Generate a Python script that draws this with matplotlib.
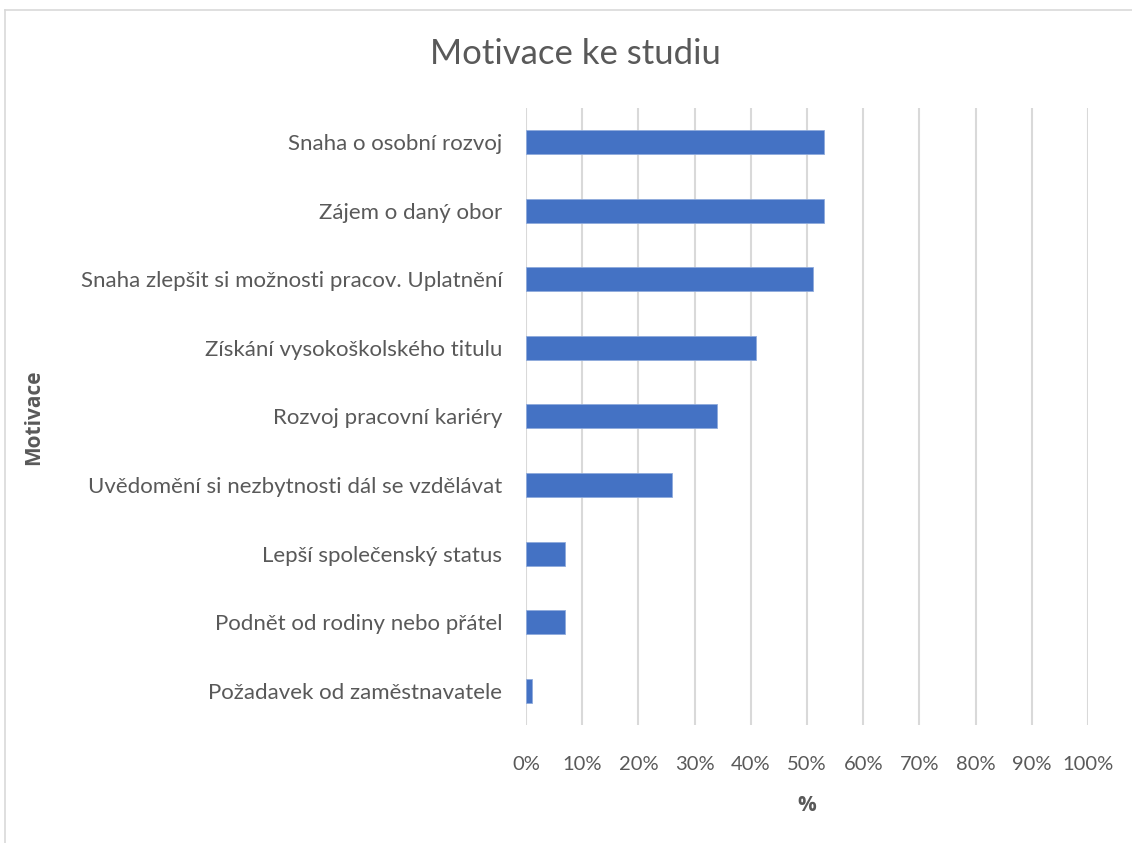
import matplotlib.pyplot as plt
from matplotlib.ticker import FuncFormatter

categories = ['Snaha o osobní rozvoj', 'Zájem o daný obor',
              'Snaha zlepšit si možnosti pracov. Uplatnění',
              'Získání vysokoškolského titulu', 'Rozvoj pracovní kariéry',
              'Uvědomění si nezbytnosti dál se vzdělávat',
              'Lepší společenský status', 'Podnět od rodiny nebo přátel',
              'Požadavek od zaměstnavatele']
values = [53, 53, 51, 41, 34, 26, 7, 7, 1]

plt.rcParams['font.family'] = ['Lato', 'DejaVu Sans']
txt = '#595959'

fig = plt.figure(figsize=(11.32, 8.43), dpi=100)
ax = fig.add_axes([0.4647, 0.14, 0.4965, 0.732])

pos = list(range(len(categories)))
ax.barh(pos, values, height=0.35, color='#4472C4', edgecolor='#8FAADC', linewidth=0.6, zorder=3)
ax.set_yticks(pos)
ax.set_yticklabels(categories)
ax.set_ylim(len(categories) - 0.5, -0.5)
ax.set_xlim(0, 100)
ax.set_xticks(range(0, 101, 10))
ax.xaxis.set_major_formatter(FuncFormatter(lambda v, p: f'{int(v)}%'))
ax.grid(axis='x', color='#D9D9D9', linewidth=1.5, zorder=0)
for s in ax.spines.values():
    s.set_visible(False)
ax.tick_params(length=0, colors=txt)
ax.tick_params(axis='y', labelsize=16, pad=17)
ax.tick_params(axis='x', labelsize=14.5, pad=22)

bold = ['Open Sans', 'DejaVu Sans']
ax.set_xlabel('%', fontsize=15, fontweight='bold', color=txt, labelpad=16, family=bold)
fig.text(0.030, 0.505, 'Motivace', rotation=90, fontsize=15, fontweight='bold',
         color=txt, ha='center', va='center', family=bold)
fig.text(0.508, 0.936, 'Motivace ke studiu', fontsize=25, color=txt, ha='center', va='center')

# chart frame
fig.add_artist(plt.Line2D([0.0045, 0.0045], [0, 0.988], color='#D9D9D9', linewidth=1.2))
fig.add_artist(plt.Line2D([0.0045, 1], [0.988, 0.988], color='#D9D9D9', linewidth=1.2))

fig.savefig('out.png', dpi=100)
